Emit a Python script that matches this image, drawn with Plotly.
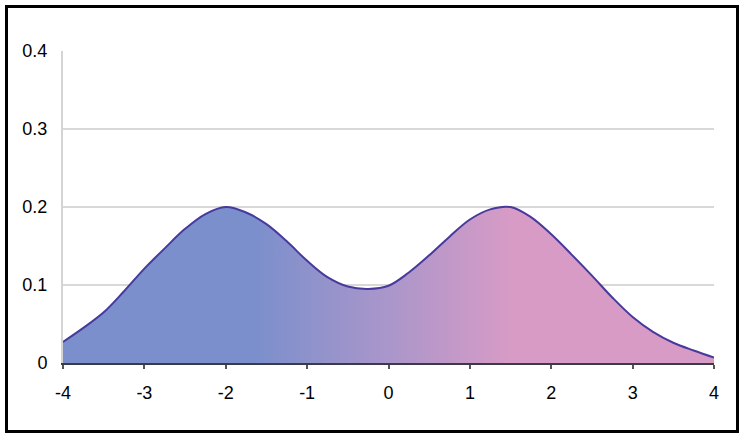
import plotly.graph_objects as go

# Data
x_vals = [-4.0, -3.75, -3.5, -3.25, -3.0, -2.75, -2.5, -2.25, -2.0, -1.75, -1.5, -1.25,
          -1.0, -0.75, -0.5, -0.25, 0.0, 0.25, 0.5, 0.75, 1.0, 1.25, 1.5, 1.75,
          2.0, 2.25, 2.5, 2.75, 3.0, 3.25, 3.5, 3.75, 4.0]
y_vals = [0.027, 0.045, 0.065, 0.092, 0.121, 0.147, 0.172, 0.191, 0.200, 0.193, 0.178, 0.156,
          0.131, 0.110, 0.098, 0.095, 0.099, 0.116, 0.138, 0.162, 0.184, 0.197, 0.200, 0.187,
          0.165, 0.139, 0.112, 0.084, 0.059, 0.040, 0.026, 0.016, 0.007]
x_ticks = [-4, -3, -2, -1, 0, 1, 2, 3, 4]
x_tick_labels = ["-4", "-3", "-2", "-1", "0", "1", "2", "3", "4"]
y_ticks = [0, 0.1, 0.2, 0.3, 0.4]
y_tick_labels = ["0", "0.1", "0.2", "0.3", "0.4"]

BLUE = "rgb(122,143,204)"
PINK = "rgb(216,155,198)"

fig = go.Figure()
fig.add_trace(go.Scatter(
    x=x_vals, y=y_vals, mode="lines",
    line=dict(color="#473a9c", width=2, shape="spline", smoothing=1.0),
    fill="tozeroy",
    fillgradient=dict(type="horizontal",
                      colorscale=[[0, BLUE], [0.29, BLUE], [0.5, "rgb(170,150,202)"],
                                  [0.69, PINK], [1, PINK]]),
    hoverinfo="skip", showlegend=False,
))

W, H = 747, 443
L, R, T, B = 63, 33, 51, 80
pw, ph = W - L - R, H - T - B

def px_to_paper_x(p):
    return (p - L) / pw

def px_to_paper_y(p):
    return (H - B - p) / ph

fig.add_shape(type="rect", xref="paper", yref="paper",
              x0=px_to_paper_x(6.5), x1=px_to_paper_x(737.5),
              y0=px_to_paper_y(431.5), y1=px_to_paper_y(6.5),
              line=dict(color="black", width=3), fillcolor="rgba(0,0,0,0)", layer="above")

fig.update_layout(
    width=W, height=H,
    margin=dict(l=L, r=R, t=T, b=B),
    paper_bgcolor="white", plot_bgcolor="white",
    font=dict(family="Liberation Sans, Arial, sans-serif", size=18, color="black"),
    xaxis=dict(range=[-4, 4], tickvals=x_ticks, ticktext=x_tick_labels,
               showgrid=False, zeroline=False,
               showline=True, linecolor="#3a3a4a", linewidth=2,
               ticks="outside", ticklen=4, tickwidth=2, tickcolor="#555",
               ticklabelstandoff=8),
    yaxis=dict(range=[0, 0.4], tickvals=y_ticks, ticktext=y_tick_labels,
               showgrid=True, gridcolor="#d8d8d8", gridwidth=1.5,
               zeroline=False,
               showline=True, linecolor="#d4d4d4", linewidth=2,
               ticks="", ticklabelstandoff=10),
)

fig.write_html("out.html", config={"displayModeBar": False},
               post_script="document.body.style.margin='0';document.body.style.overflow='hidden';")
